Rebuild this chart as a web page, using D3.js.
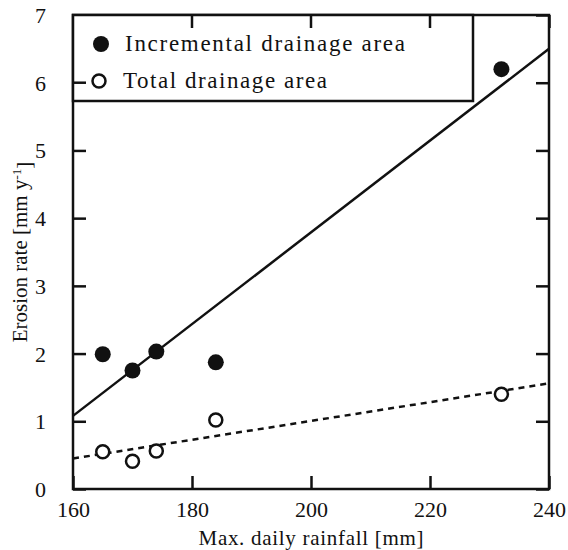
<!DOCTYPE html>
<html>
<head>
<meta charset="utf-8">
<script src="https://cdn.jsdelivr.net/npm/d3@7"></script>
<style>
  body { margin: 0; background: #fff; }
  svg text { font-family: "Liberation Serif", "Times New Roman", serif; fill: #111; }
</style>
</head>
<body>
<div id="chart"></div>
<script>
let margin = {
        top: 15,
        right: 19,
        bottom: 61,
        left: 73
    },
    width = 568,
    height = 550;

let innerW = width - margin.left - margin.right,
    innerH = height - margin.top - margin.bottom;

// data
let rainfall = [165, 170, 174, 184, 232];
let incremental = [1.99, 1.75, 2.03, 1.87, 6.2];
let total = [0.55, 0.41, 0.56, 1.02, 1.40];

// fitted lines (end points at the axis limits)
let fitX = [160, 240];
let incrementalFit = [1.08, 6.5];
let totalFit = [0.45, 1.56];

let xTicks = [160, 180, 200, 220, 240];
let yTicks = [0, 1, 2, 3, 4, 5, 6, 7];
let legendLabels = ["Incremental drainage area", "Total drainage area"];

let svg = d3.select("#chart")
    .append("svg")
    .attr("width", width)
    .attr("height", height);

let g = svg.append("g")
    .attr("transform", "translate(" + margin.left + "," + margin.top + ")");

let x = d3.scaleLinear().domain([160, 240]).range([0, innerW]);
let y = d3.scaleLinear().domain([0, 7]).range([innerH, 0]);

let tickLen = 13;
let serif = "'Liberation Serif', 'Times New Roman', serif";

// axes, ticks point inward on all four sides
let xBottom = g.append("g")
    .attr("transform", "translate(0," + innerH + ")")
    .call(d3.axisBottom(x).tickValues(xTicks).tickSize(-tickLen).tickPadding(tickLen + 15).tickFormat(d3.format("d")));
let xTop = g.append("g")
    .call(d3.axisTop(x).tickValues(xTicks).tickSize(-tickLen).tickFormat(""));
let yLeft = g.append("g")
    .call(d3.axisLeft(y).tickValues(yTicks).tickSize(-tickLen).tickPadding(tickLen + 14).tickFormat(d3.format("d")));
let yRight = g.append("g")
    .attr("transform", "translate(" + innerW + ",0)")
    .call(d3.axisRight(y).tickValues(yTicks).tickSize(-tickLen).tickFormat(""));

[xBottom, xTop, yLeft, yRight].forEach(function (a) {
    a.attr("font-family", serif).attr("font-size", 22);
    a.select(".domain").remove();
    a.selectAll(".tick line").attr("stroke", "#111").attr("stroke-width", 2.5);
    a.selectAll("text").attr("fill", "#111");
});
xBottom.selectAll("text").attr("dy", "0");
yLeft.selectAll("text").attr("dy", "0.34em");

// frame
g.append("rect")
    .attr("x", 0)
    .attr("y", 0)
    .attr("width", innerW)
    .attr("height", innerH)
    .attr("fill", "none")
    .attr("stroke", "#111")
    .attr("stroke-width", 2.5);

// fit lines
let line = d3.line()
    .x(function (d) { return x(d[0]); })
    .y(function (d) { return y(d[1]); });

g.append("path")
    .datum(d3.zip(fitX, incrementalFit))
    .attr("d", line)
    .attr("fill", "none")
    .attr("stroke", "#111")
    .attr("stroke-width", 2.5);

g.append("path")
    .datum(d3.zip(fitX, totalFit))
    .attr("d", line)
    .attr("fill", "none")
    .attr("stroke", "#111")
    .attr("stroke-width", 2.5)
    .attr("stroke-dasharray", "6,5");

// points
g.selectAll(".pt-inc")
    .data(d3.zip(rainfall, incremental))
    .enter().append("circle")
    .attr("class", "pt-inc")
    .attr("cx", function (d) { return x(d[0]); })
    .attr("cy", function (d) { return y(d[1]); })
    .attr("r", 8)
    .attr("fill", "#111");

g.selectAll(".pt-tot")
    .data(d3.zip(rainfall, total))
    .enter().append("circle")
    .attr("class", "pt-tot")
    .attr("cx", function (d) { return x(d[0]); })
    .attr("cy", function (d) { return y(d[1]); })
    .attr("r", 6.5)
    .attr("fill", "#fff")
    .attr("stroke", "#111")
    .attr("stroke-width", 2.5);

// legend box
let legend = g.append("g");
legend.append("rect")
    .attr("x", 0)
    .attr("y", 0)
    .attr("width", 400)
    .attr("height", 86)
    .attr("fill", "#fff")
    .attr("stroke", "#111")
    .attr("stroke-width", 2.5);
// re-draw the top/left ticks that sit under the legend
[180, 200, 220].forEach(function (v) {
    legend.append("line").attr("x1", x(v)).attr("x2", x(v)).attr("y1", 0).attr("y2", tickLen)
        .attr("stroke", "#111").attr("stroke-width", 2.5);
});
legend.append("line").attr("x1", 0).attr("x2", tickLen).attr("y1", y(6)).attr("y2", y(6))
    .attr("stroke", "#111").attr("stroke-width", 2.5);

legend.append("circle").attr("cx", 28).attr("cy", 29).attr("r", 8).attr("fill", "#111");
legend.append("circle").attr("cx", 26).attr("cy", 66).attr("r", 6.5)
    .attr("fill", "#fff").attr("stroke", "#111").attr("stroke-width", 2.5);

legend.append("text")
    .attr("x", 52).attr("y", 36)
    .attr("textLength", 280).attr("lengthAdjust", "spacing")
    .style("font-size", "23px")
    .text(legendLabels[0]);
legend.append("text")
    .attr("x", 50).attr("y", 73)
    .attr("textLength", 204).attr("lengthAdjust", "spacing")
    .style("font-size", "23px")
    .text(legendLabels[1]);

// axis titles
svg.append("text")
    .attr("x", margin.left + innerW / 2)
    .attr("y", 545)
    .attr("text-anchor", "middle")
    .attr("textLength", 225).attr("lengthAdjust", "spacing")
    .style("font-size", "21px")
    .text("Max. daily rainfall [mm]");

let yt = svg.append("text")
    .attr("transform", "translate(27," + (margin.top + innerH / 2) + ") rotate(-90)")
    .attr("text-anchor", "middle")
    .style("font-size", "21px");
yt.append("tspan").text("Erosion rate [mm y");
yt.append("tspan").attr("dy", "-0.45em").style("font-size", "13px").text("-1");
yt.append("tspan").attr("dy", "0.45em").text("]");
</script>
</body>
</html>
